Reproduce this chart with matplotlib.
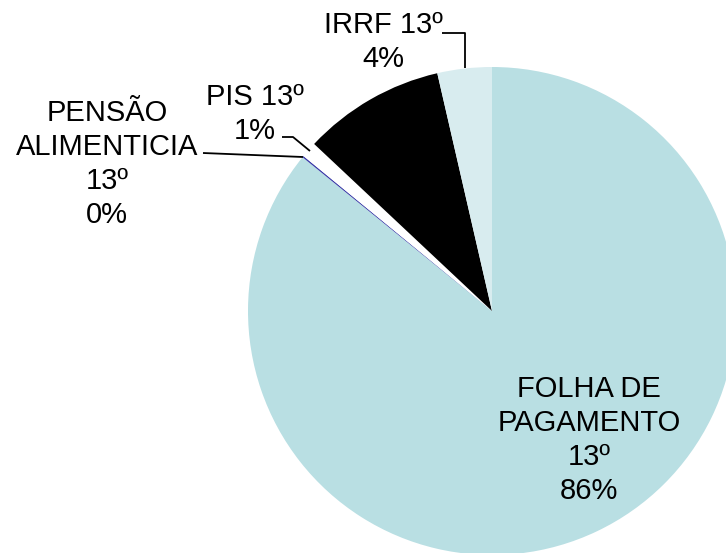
import matplotlib
matplotlib.use('Agg')
import matplotlib.pyplot as plt

plt.rcParams['font.family'] = ['Liberation Sans', 'DejaVu Sans']

# slices in drawing order, clockwise from 12 o'clock
categories = ['FOLHA DE\nPAGAMENTO\n13º', 'PENSÃO\nALIMENTICIA\n13º', 'PIS 13º', '', 'IRRF 13º']
values = [85.85, 0.1, 1.05, 9.4, 3.6]
shown_pct = ['86%', '0%', '1%', '9%', '4%']
colors = ['#b9dfe3', '#3a3aa8', '#ffffff', '#000000', '#d8ecef']

W, H = 726, 553
fig = plt.figure(figsize=(W / 100, H / 100), dpi=100)
ax = fig.add_axes([0, 0, 1, 1])

CX, CY, R = 492, H - 311, 244
ax.pie(values, colors=colors, startangle=90, counterclock=False,
       center=(CX, CY), radius=R, wedgeprops=dict(linewidth=0))
ax.set_xlim(0, W)
ax.set_ylim(0, H)
ax.set_aspect('equal')
ax.axis('off')

FS = 21
LS = 1.28


def label(i, x, y):
    txt = categories[i] + '\n' + shown_pct[i] if categories[i] else ''
    ax.text(x, H - y, txt, ha='center', va='center', fontsize=FS,
            linespacing=LS, color='black')


def leader(xs, ys):
    ax.plot(xs, [H - v for v in ys], color='black', lw=1.3,
            solid_capstyle='butt', zorder=5)


label(0, 589, 440)
label(4, 383, 42)
leader([442, 465, 465], [33, 33, 68])
label(2, 255, 114)
leader([282, 293, 310], [137, 137, 151])
label(1, 107, 164)
leader([203, 303], [153, 157])

fig.savefig('out.png', dpi=100, facecolor='white')
